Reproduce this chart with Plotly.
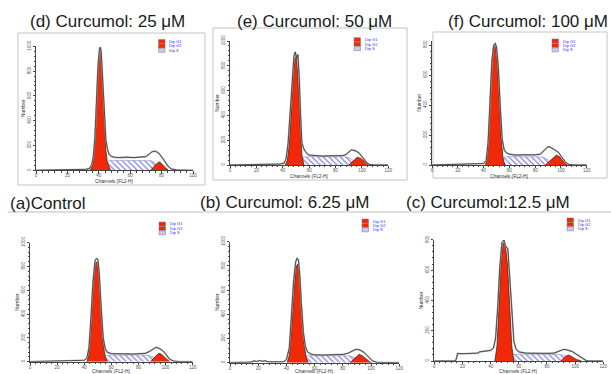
import plotly.graph_objects as go

W, H = 611, 374

# ---------------- data ----------------
titles = ["(d) Curcumol: 25 μM", "(e) Curcumol: 50 μM", "(f) Curcumol: 100 μM",
          "(a)Control", "(b) Curcumol: 6.25 μM", "(c) Curcumol:12.5 μM"]
legend_labels = ["Dip G1", "Dip G2", "Dip S"]
x_axis_title = "Channels (FL2-H)"
y_axis_title = "Number"

# (d) 25 uM
d_out_x = [0, 8, 15, 25, 32, 34, 35.5, 36.5, 37.5, 38.5, 39.5, 40.5, 41, 41.5, 42.5, 43.5, 44.5, 45.5, 46.5, 48, 50, 54, 58, 62, 66, 70, 72, 74, 76, 78, 80, 82, 84, 86, 90, 100]
d_out_y = [0, 2, 4, 5, 8, 15, 45, 110, 260, 550, 850, 985, 992, 960, 740, 430, 250, 170, 130, 112, 105, 103, 106, 102, 106, 110, 130, 150, 155, 140, 110, 70, 35, 12, 2, 0]
d_g1_x = [34.5, 35.5, 36.5, 37.5, 38.5, 39.5, 40.5, 41, 41.5, 42.5, 43.5, 44.5, 45.5, 46.5, 47.5]
d_g1_y = [0, 30, 90, 230, 520, 820, 960, 970, 930, 700, 380, 160, 60, 20, 0]
d_s_x = [40, 47, 55, 65, 73, 76, 78.5]
d_s_y = [0, 80, 80, 80, 78, 60, 0]
d_g2_x = [73, 75, 77, 78.5, 80, 82, 84.5]
d_g2_y = [0, 30, 55, 68, 55, 25, 0]
d_marks = [42.6, 74.9]

# (e) 50 uM
e_out_x = [0, 10, 20, 30, 38, 41, 42.5, 44, 45.5, 47, 48.5, 49.5, 50.5, 51.5, 52.5, 53.5, 54.5, 56, 58, 60, 65, 70, 75, 80, 85, 88, 90, 92, 94, 96, 98, 100, 102, 104, 106, 110, 120]
e_out_y = [0, 3, 5, 5, 8, 15, 50, 170, 420, 700, 880, 912, 860, 890, 700, 400, 180, 130, 95, 80, 75, 72, 74, 72, 75, 85, 105, 122, 118, 110, 95, 70, 40, 15, 4, 0, 0]
e_g1_x = [42, 43.5, 45, 46.5, 48, 49.5, 50.5, 51.5, 53, 54.5, 56]
e_g1_y = [0, 40, 180, 450, 760, 870, 860, 700, 350, 80, 0]
e_s_x = [47, 53, 60, 70, 80, 88, 92, 96]
e_s_y = [0, 62, 67, 67, 67, 66, 50, 0]
e_g2_x = [90, 92, 94, 96.5, 99, 101, 104, 106]
e_g2_y = [0, 20, 42, 62, 55, 35, 10, 0]
e_marks = [48, 91]

# (f) 100 uM
f_out_x = [0, 10, 20, 30, 36, 40, 42, 43.5, 45, 46.5, 48, 49, 50, 51.5, 53, 54.5, 56, 58, 60, 65, 70, 75, 80, 84, 87, 90, 92, 94, 96, 98, 100, 102, 104, 106, 110, 120]
f_out_y = [0, 3, 5, 6, 8, 10, 30, 150, 420, 700, 800, 811, 790, 650, 380, 170, 100, 80, 72, 66, 68, 66, 68, 72, 95, 122, 118, 108, 100, 85, 60, 35, 15, 5, 0, 0]
f_g1_x = [41.5, 43, 44.5, 46, 47.5, 49, 50.5, 52, 53.5, 55, 56.5]
f_g1_y = [0, 60, 300, 620, 790, 800, 720, 470, 200, 50, 0]
f_s_x = [47, 54, 60, 70, 80, 86, 91, 95]
f_s_y = [0, 50, 56, 56, 56, 54, 30, 0]
f_g2_x = [88, 91, 94, 96.5, 99, 101, 103, 105]
f_g2_y = [0, 25, 50, 66, 55, 35, 12, 0]
f_marks = [47.7, 91]

# (a) Control
a_out_x = [0, 10, 15, 20, 25, 30, 35, 40, 42, 43.5, 45, 46.5, 48, 49, 50, 51, 52.5, 54, 55.5, 57, 60, 65, 70, 75, 80, 85, 88, 91, 93, 95, 97, 99, 101, 103, 106, 110, 120]
a_out_y = [0, 2, 5, 8, 8, 10, 8, 12, 30, 120, 380, 680, 850, 867, 860, 760, 450, 200, 110, 80, 68, 64, 66, 64, 68, 70, 85, 110, 122, 112, 100, 80, 50, 20, 5, 0, 0]
a_g1_x = [42, 43.5, 45, 46.5, 48, 49.5, 51, 52.5, 54, 55.5, 57]
a_g1_y = [0, 70, 300, 620, 820, 840, 700, 400, 150, 40, 0]
a_s_x = [46, 54, 60, 70, 80, 87, 92, 96]
a_s_y = [0, 52, 56, 56, 56, 55, 35, 0]
a_g2_x = [89, 92, 95, 97, 99, 101, 103]
a_g2_y = [0, 40, 70, 62, 40, 18, 0]
a_marks = [48.4, 92.2]

# (b) 6.25 uM
b_out_x = [0, 10, 15, 17, 19, 21, 23, 25, 27, 30, 35, 38, 40, 42, 43.5, 45, 46.5, 47.5, 48.5, 49.5, 50.5, 52, 53.5, 55, 57, 60, 65, 70, 75, 80, 84, 87, 89, 91, 93, 95, 97, 99, 101, 104, 110, 120]
b_out_y = [0, 3, 5, 15, 10, 18, 12, 16, 8, 6, 5, 8, 25, 120, 380, 660, 830, 863, 850, 720, 500, 250, 130, 90, 72, 65, 63, 64, 62, 68, 80, 100, 110, 108, 100, 85, 60, 35, 15, 3, 0, 0]
b_g1_x = [40.5, 42, 43.5, 45, 46.5, 48, 49.5, 51, 52.5, 54, 55.5]
b_g1_y = [0, 60, 260, 560, 780, 816, 700, 420, 160, 40, 0]
b_s_x = [45, 52, 60, 70, 80, 85, 89, 93]
b_s_y = [0, 55, 58, 58, 58, 57, 40, 0]
b_g2_x = [85, 88, 91.5, 94, 96.5, 99, 100.5]
b_g2_y = [0, 35, 69, 55, 30, 8, 0]
b_marks = [48]

# (c) 12.5 uM
c_out_x = [0, 10, 15, 15.8, 16.5, 20, 25, 28, 31, 32, 35, 38, 40, 42, 43.5, 45, 46.5, 48, 49.5, 50.5, 51.5, 52.2, 53.5, 55, 56.5, 58, 60, 65, 70, 75, 80, 85, 88, 90, 92, 94, 96, 98, 100, 103, 106, 108, 110, 120]
c_out_y = [0, 0, 0, 20, 50, 48, 52, 50, 52, 60, 62, 65, 70, 85, 150, 350, 620, 780, 798, 760, 745, 740, 560, 300, 130, 80, 60, 52, 50, 52, 50, 52, 62, 72, 77, 74, 70, 62, 50, 30, 10, 2, 0, 0]
c_g1_x = [43, 44.5, 46, 47.5, 49, 50.5, 52, 53.5, 55, 56.5]
c_g1_y = [0, 100, 380, 680, 780, 760, 640, 330, 100, 0]
c_s_x = [47, 53, 60, 70, 80, 88, 92, 100]
c_s_y = [0, 42, 45, 45, 45, 44, 38, 0]
c_g2_x = [90, 93, 95.5, 98, 101, 104.5]
c_g2_y = [0, 30, 40, 28, 10, 0]
c_marks = [51.4, 91.6]

# ---------------- layout geometry (pixels) ----------------
panels = [
    dict(d=(d_out_x, d_out_y, d_g1_x, d_g1_y, d_s_x, d_s_y, d_g2_x, d_g2_y, d_marks),
         x0=36, x1=193, xmax=100, base=170.3, ymax=1000, p200=24.8, t=(107, 21.5), lg=(158.5, 39.5), xt=181.5),
    dict(d=(e_out_x, e_out_y, e_g1_x, e_g1_y, e_s_x, e_s_y, e_g2_x, e_g2_y, e_marks),
         x0=230, x1=388.3, xmax=120, base=165, ymax=1000, p200=24.8, t=(314, 21.5), lg=(354, 37.7), xt=176),
    dict(d=(f_out_x, f_out_y, f_g1_x, f_g1_y, f_s_x, f_s_y, f_g2_x, f_g2_y, f_marks),
         x0=432, x1=586.7, xmax=120, base=165, ymax=830, p200=30, t=(527.5, 21.5), lg=(552, 39), xt=176),
    dict(d=(a_out_x, a_out_y, a_g1_x, a_g1_y, a_s_x, a_s_y, a_g2_x, a_g2_y, a_marks),
         x0=30, x1=192.7, xmax=120, base=361.7, ymax=1000, p200=23.8, t=(48, 204), lg=(159, 222), xt=371.8),
    dict(d=(b_out_x, b_out_y, b_g1_x, b_g1_y, b_s_x, b_s_y, b_g2_x, b_g2_y, b_marks),
         x0=230, x1=399.3, xmax=120, base=362.7, ymax=1000, p200=24.2, t=(284, 203), lg=(362, 219), xt=371.8),
    dict(d=(c_out_x, c_out_y, c_g1_x, c_g1_y, c_s_x, c_s_y, c_g2_x, c_g2_y, c_marks),
         x0=434.3, x1=603.3, xmax=120, base=361, ymax=800, p200=30.3, t=(487.5, 203), lg=(567, 218), xt=371.8),
]
frames = [(18, 33, 205, 185), (213, 28, 407, 180), (433, 32, 607, 178)]

RED = "#f02a08"
HATCH = "#7f7fe6"
FONT = "Liberation Sans, Arial, sans-serif"

def px(x):
    return x / W

def py(y):
    return 1 - y / H

fig = go.Figure()
shapes = []
annotations = []
layout_axes = {}

for i, p in enumerate(panels):
    k = "" if i == 0 else str(i + 1)
    xa, ya = "x" + k, "y" + k
    out_x, out_y, g1_x, g1_y, s_x, s_y, g2_x, g2_y, marks = p["d"]
    height_px = p["ymax"] / 200 * p["p200"]
    top = p["base"] - height_px
    fig.add_trace(go.Scatter(x=s_x, y=s_y, xaxis=xa, yaxis=ya, mode="lines", fill="toself",
                             fillcolor="white",
                             fillpattern=dict(shape="\\", fgcolor=HATCH, bgcolor="white", size=4, solidity=0.3),
                             line=dict(color="#8c8cc8", width=0.6), hoverinfo="skip", showlegend=False))
    for gx, gy in ((g1_x, g1_y), (g2_x, g2_y)):
        fig.add_trace(go.Scatter(x=gx, y=gy, xaxis=xa, yaxis=ya, mode="lines", fill="toself",
                                 fillcolor=RED, line=dict(color="#3a1a10", width=0.7),
                                 hoverinfo="skip", showlegend=False))
    fig.add_trace(go.Scatter(x=out_x, y=out_y, xaxis=xa, yaxis=ya, mode="lines",
                             line=dict(color="#b0b0b0", width=1.7), hoverinfo="skip", showlegend=False))
    fig.add_trace(go.Scatter(x=out_x, y=out_y, xaxis=xa, yaxis=ya, mode="lines",
                             line=dict(color="#222222", width=0.7), hoverinfo="skip", showlegend=False))
    off = -3.2 * p["ymax"] / height_px
    fig.add_trace(go.Scatter(x=marks, y=[off] * len(marks), xaxis=xa, yaxis=ya, mode="markers",
                             marker=dict(symbol="triangle-up", size=6, color="black"),
                             cliponaxis=False, hoverinfo="skip", showlegend=False))

    common = dict(showline=True, linecolor="#444", linewidth=0.8, ticks="outside", ticklen=2.5,
                  tickwidth=0.6, tickcolor="#444", showgrid=False, zeroline=False, automargin=False,
                  tickfont=dict(size=4.5, color="#555", family=FONT))
    layout_axes["xaxis" + k] = dict(common, domain=[px(p["x0"]), px(p["x1"])], range=[0, p["xmax"]],
                                    dtick=20, tick0=0, anchor=ya, ticklabelstandoff=-2,
                                    minor=dict(dtick=4, ticklen=1.5, tickcolor="#444", tickwidth=0.5, ticks="outside"))
    layout_axes["yaxis" + k] = dict(common, domain=[py(p["base"]), py(top)], range=[0, p["ymax"]],
                                    dtick=200, tick0=0, anchor=xa, tickangle=-90,
                                    minor=dict(dtick=40, ticklen=1.5, tickcolor="#444", tickwidth=0.5, ticks="outside"),
                                    title=dict(text=y_axis_title, font=dict(size=5, color="#333", family=FONT), standoff=1))
    annotations.append(dict(text=x_axis_title, x=px((p["x0"] + p["x1"]) / 2), y=py(p["xt"]),
                            xref="paper", yref="paper", showarrow=False, xanchor="center", yanchor="middle",
                            font=dict(size=4.8, color="#333", family=FONT)))
    annotations.append(dict(text=titles[i], x=px(p["t"][0]), y=py(p["t"][1]), xref="paper", yref="paper",
                            showarrow=False, xanchor="center", yanchor="middle",
                            font=dict(size=17, color="#1a1a1a", family=FONT)))
    lx, ly = p["lg"]
    for j, lab in enumerate(legend_labels):
        y0 = ly + j * 4.4
        fill = RED if j < 2 else "#c8c8f0"
        shapes.append(dict(type="rect", xref="paper", yref="paper", x0=px(lx), x1=px(lx + 6.5),
                           y0=py(y0 + 4), y1=py(y0), fillcolor=fill, line=dict(color="#777", width=0.5)))
        annotations.append(dict(text=lab, x=px(lx + 8.5), y=py(y0 + 2), xref="paper", yref="paper",
                                showarrow=False, xanchor="left", yanchor="middle",
                                font=dict(size=4, color="#3030ff", family=FONT)))

for (x0, y0, x1, y1) in frames:
    shapes.append(dict(type="rect", xref="paper", yref="paper", x0=px(x0), x1=px(x1), y0=py(y1), y1=py(y0),
                       line=dict(color="#c4c4c4", width=1), layer="below"))
shapes.append(dict(type="line", xref="paper", yref="paper", x0=px(8), x1=px(611), y0=py(212), y1=py(212),
                   line=dict(color="#bdbdbd", width=1)))

fig.update_layout(width=W, height=H, margin=dict(l=0, r=0, t=0, b=0), template="none",
                  paper_bgcolor="white", plot_bgcolor="rgba(0,0,0,0)", showlegend=False,
                  shapes=shapes, annotations=annotations, font=dict(family=FONT), **layout_axes)

fig.write_html("out.html", config={"displayModeBar": False},
               post_script="document.body.style.margin='0';document.body.style.padding='0';")
